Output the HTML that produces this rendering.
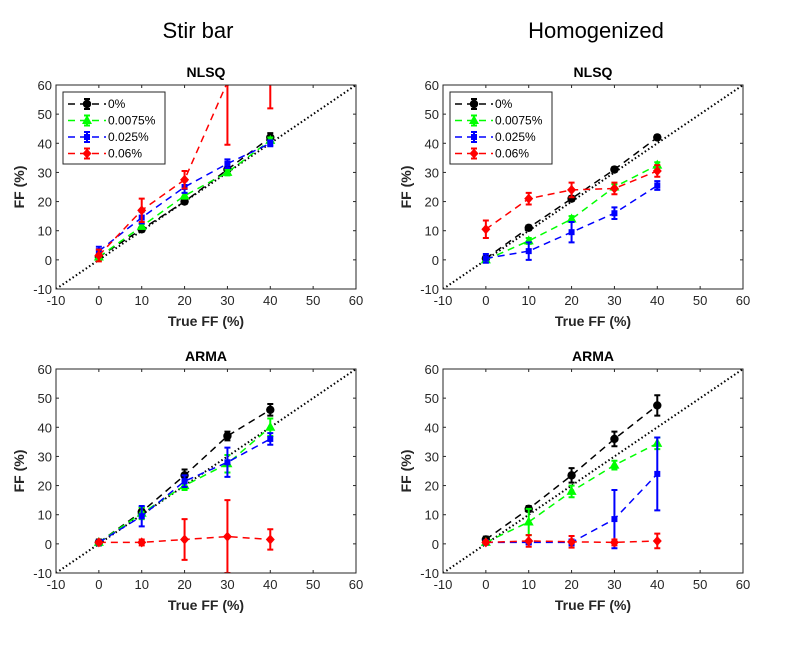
<!DOCTYPE html>
<html><head><meta charset="utf-8"><style>
body{margin:0;background:#fff;width:788px;height:640px;overflow:hidden;font-family:"Liberation Sans",Arial,sans-serif}
</style></head><body>
<svg id="fig" width="788" height="640" xmlns="http://www.w3.org/2000/svg" font-family="Liberation Sans, Arial, sans-serif">
<rect width="788" height="640" fill="#fff"/>
<text x="198" y="38" font-size="22" text-anchor="middle" fill="#000">Stir bar</text>
<text x="596" y="38" font-size="22" text-anchor="middle" fill="#000">Homogenized</text>
</svg>
<script>
const trueFF=[0,10,20,30,40];
const seriesNames=["0%","0.0075%","0.025%","0.06%"];
const colors=["#000","#00ff00","#0000ff","#ff0000"];
const markers=["circle","triangle","square","diamond"];
const tlVals=[[1,10.5,20,31,42],[1,11.5,22,30,41],[3,14.5,25,33,40],[1.5,17,27.5,61,75]];
const tlErr=[[0.7,0.8,0.8,1,1.5],[0.7,0.8,1,1,1],[1.5,2,2,1.5,1],[2,4,3,21.5,23]];
const trVals=[[0.5,11,21,31,42],[0,6.5,14,25,32.5],[0.5,3,9.5,16,25.5],[10.5,21,24,24.5,30.5]];
const trErr=[[0.5,0.8,0.8,0.8,0.8],[0.5,1,1,1,1],[1.5,3,3.5,2,1.5],[3,2,2.5,2,2]];
const blVals=[[0.5,11,23.5,37,46],[0.5,10.5,20,27.5,40],[0.5,9.5,21.5,28,36],[0.5,0.5,1.5,2.5,1.5]];
const blErr=[[1,1.5,2,1.5,2],[0.5,2,1.5,3,3],[0.5,3.5,2,5,2],[0.5,1,7,12.5,3.5]];
const brVals=[[1.5,12,23.5,36,47.5],[0.5,7.5,18,27,34.5],[0.5,0.5,0.5,8.5,24],[0.5,1,0.7,0.5,1]];
const brErr=[[1,1,2.5,2.5,3.5],[0.5,4.5,2,1.5,2],[0.5,0.5,1,10,12.5],[0.5,2,2,1,2.5]];
const ticks=[-10,0,10,20,30,40,50,60];
const NS="http://www.w3.org/2000/svg";
const fig=document.getElementById('fig');
function mk(tag,attrs,parent){const e=document.createElementNS(NS,tag);for(const k in attrs)e.setAttribute(k,attrs[k]);(parent||fig).appendChild(e);return e;}
let cid=0;
function panel(L,T,title,vals,errs,legend,pname){
  const W=300,H=204;
  const sx=v=>L+(v+10)/70*W, sy=v=>T+H-(v+10)/70*H;
  const g=mk('g',{});
  
  
  const id='c'+(cid++);
  const cp=mk('clipPath',{id:id},g);mk('rect',{x:L,y:T,width:W,height:H},cp);
  mk('rect',{x:L,y:T,width:W,height:H,fill:'#fff'},g);
  const t=mk('text',{x:L+W/2,y:T-8,'font-size':14,'font-weight':'bold','text-anchor':'middle',fill:'#000'},g);t.textContent=title;
  
  
  ticks.forEach(v=>{
    const x=sx(v),y=sy(v);
    mk('line',{x1:x,x2:x,y1:T+H,y2:T+H-3,stroke:'#262626'},g);
    mk('line',{x1:x,x2:x,y1:T,y2:T+3,stroke:'#262626'},g);
    mk('line',{x1:L,x2:L+3,y1:y,y2:y,stroke:'#262626'},g);
    mk('line',{x1:L+W,x2:L+W-3,y1:y,y2:y,stroke:'#262626'},g);
    const a=mk('text',{x:x,y:T+H+16,'font-size':13,'text-anchor':'middle',fill:'#262626'},g);a.textContent=v;
    
    
    const b=mk('text',{x:L-4,y:y+5,'font-size':13,'text-anchor':'end',fill:'#262626'},g);b.textContent=v;
    
    
  });
  const xl=mk('text',{x:L+W/2,y:T+H+37,'font-size':14,'font-weight':'bold','text-anchor':'middle',fill:'#262626'},g);xl.textContent='True FF (%)';
  
  
  const yl=mk('text',{x:0,y:0,'font-size':14,'font-weight':'bold','text-anchor':'middle',fill:'#262626',transform:`translate(${L-32},${T+H/2}) rotate(-90)`},g);yl.textContent='FF (%)';
  
  
  const cg=mk('g',{'clip-path':`url(#${id})`},g);
  mk('line',{x1:sx(-10),y1:sy(-10),x2:sx(60),y2:sy(60),stroke:'#000','stroke-width':2,'stroke-dasharray':'1.5,2.5'},cg);
  vals.forEach((s,i)=>{
    const sg=mk('g',{},cg);
    
    
    mk('polyline',{points:s.map((v,j)=>sx(trueFF[j])+','+sy(v)).join(' '),fill:'none',stroke:colors[i],'stroke-width':1.5,'stroke-dasharray':'7,5'},sg);
    s.forEach((v,j)=>{
      const x=sx(trueFF[j]),e=errs[i][j];
      mk('path',{d:`M${x},${sy(v-e)}V${sy(v+e)}M${x-3},${sy(v-e)}H${x+3}M${x-3},${sy(v+e)}H${x+3}`,stroke:colors[i],'stroke-width':2,fill:'none'},sg);
      marker(sg,markers[i],x,sy(v),colors[i]);
    });
  });
  mk('rect',{x:L,y:T,width:W,height:H,fill:'none',stroke:'#262626','stroke-width':1},g);
  if(legend){
    const lg=mk('g',{},g);
    
    
    mk('rect',{x:L+7,y:T+7,width:102,height:72,fill:'#fff',stroke:'#262626'},lg);
    seriesNames.forEach((n,i)=>{
      const y=T+19+i*16.5;
      mk('line',{x1:L+12,x2:L+50,y1:y,y2:y,stroke:colors[i],'stroke-width':1.5,'stroke-dasharray':'7,5'},lg);
      mk('path',{d:`M${L+31},${y-5}V${y+5}M${L+28},${y-5}H${L+34}M${L+28},${y+5}H${L+34}`,stroke:colors[i],'stroke-width':2},lg);
      marker(lg,markers[i],L+31,y,colors[i]);
      const tx=mk('text',{x:L+52,y:y+4,'font-size':12,fill:'#000'},lg);tx.textContent=n;
      
      
    });
  }
}
function marker(p,m,x,y,c){
  if(m==='circle')mk('circle',{cx:x,cy:y,r:4.2,fill:c},p);
  else if(m==='triangle')mk('polygon',{points:`${x},${y-5.5} ${x-5},${y+3.5} ${x+5},${y+3.5}`,fill:c},p);
  else if(m==='square')mk('rect',{x:x-3,y:y-3,width:6,height:6,fill:c},p);
  else mk('polygon',{points:`${x},${y-5} ${x+4.5},${y} ${x},${y+5} ${x-4.5},${y}`,fill:c},p);
}
panel(56,85,'NLSQ',tlVals,tlErr,true,'panel-stir-nlsq');
panel(443,85,'NLSQ',trVals,trErr,true,'panel-homog-nlsq');
panel(56,369,'ARMA',blVals,blErr,false,'panel-stir-arma');
panel(443,369,'ARMA',brVals,brErr,false,'panel-homog-arma');
</script>
</body></html>
